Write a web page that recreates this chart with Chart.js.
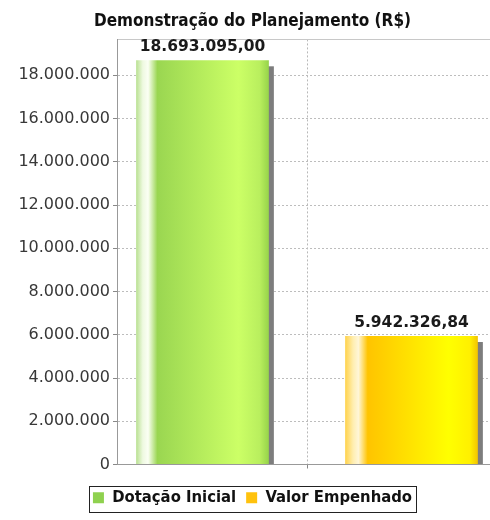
<!DOCTYPE html>
<html>
<head>
<meta charset="utf-8">
<script src="https://cdn.jsdelivr.net/npm/chart.js@4/dist/chart.umd.min.js"></script>
<style>
  html, body { margin: 0; padding: 0; background: #ffffff; overflow: hidden; }
  #wrap { width: 500px; height: 520px; }
</style>
</head>
<body>
<div id="wrap"><canvas id="c" width="500" height="520"></canvas></div>
<script>
// ---- data ----
const chartTitle = 'Demonstração do Planejamento (R$)';
const categories = [''];
const seriesNames = ['Dotação Inicial', 'Valor Empenhado'];
const dotacaoInicial = [18693095.00];
const valorEmpenhado = [5942326.84];
const yMin = 0;
const yMax = 19660000;
const yTicks = [0, 2000000, 4000000, 6000000, 8000000, 10000000, 12000000, 14000000, 16000000, 18000000];

// ---- helpers ----
function fmtInt(v) {
  return Math.round(v).toString().replace(/\B(?=(\d{3})+(?!\d))/g, '.');
}
function fmtMoney(v) {
  const parts = v.toFixed(2).split('.');
  return fmtInt(Number(parts[0])) + ',' + parts[1];
}

const seriesColors = ['#8fd14f', '#ffc20e'];
const gradientStops = [
  [[0, '#b8e090'], [0.05, '#eef9e0'], [0.09, '#fbfff4'], [0.16, '#9ad651'], [0.77, '#ccff66'], [0.93, '#b9ef5e'], [1, '#96d34a']],
  [[0, '#ffd24a'], [0.06, '#ffeeb0'], [0.10, '#fff6d8'], [0.17, '#ffc400'], [0.78, '#ffff00'], [0.94, '#fff000'], [1, '#f2c400']]
];

const barDecor = {
  id: 'barDecor',
  beforeDatasetsDraw(chart) {
    const ctx = chart.ctx;
    chart.data.datasets.forEach((ds, di) => {
      const meta = chart.getDatasetMeta(di);
      meta.data.forEach((el) => {
        const p = el.getProps(['x', 'y', 'base', 'width'], true);
        const left = p.x - p.width / 2;
        const right = p.x + p.width / 2;
        // shadow
        ctx.save();
        ctx.fillStyle = '#7d7d7d';
        ctx.fillRect(left + 5, p.y + 6, p.width, p.base - p.y - 6);
        ctx.restore();
        // gradient fill
        const g = ctx.createLinearGradient(left, 0, right, 0);
        gradientStops[di].forEach(s => g.addColorStop(s[0], s[1]));
        el.options.backgroundColor = g;
      });
    });
  },
  afterDatasetsDraw(chart) {
    const ctx = chart.ctx;
    ctx.save();
    ctx.font = 'bold 15.5px "DejaVu Sans"';
    ctx.fillStyle = '#1a1a1a';
    ctx.textAlign = 'center';
    ctx.textBaseline = 'middle';
    chart.data.datasets.forEach((ds, di) => {
      const meta = chart.getDatasetMeta(di);
      meta.data.forEach((el, i) => {
        const p = el.getProps(['x', 'y'], true);
        ctx.fillText(fmtMoney(ds.data[i]), p.x, p.y - 13);
      });
    });
    ctx.restore();
  },
  afterDraw(chart) {
    const lg = chart.legend;
    if (!lg || !lg.legendHitBoxes || !lg.legendHitBoxes.length) return;
    const hb = lg.legendHitBoxes;
    const first = hb[0], last = hb[hb.length - 1];
    const x0 = first.left - 4;
    const x1 = last.left + last.width + 4;
    const y0 = first.top - 4;
    const y1 = first.top + first.height + 5;
    const ctx = chart.ctx;
    ctx.save();
    ctx.strokeStyle = '#222222';
    ctx.lineWidth = 1;
    ctx.strokeRect(Math.round(x0) + 0.5, Math.round(y0) + 0.5, Math.round(x1 - x0), Math.round(y1 - y0));
    ctx.restore();
  }
};

new Chart(document.getElementById('c'), {
  type: 'bar',
  data: {
    labels: categories,
    datasets: [
      { label: seriesNames[0], data: dotacaoInicial, backgroundColor: seriesColors[0], borderWidth: 0 },
      { label: seriesNames[1], data: valorEmpenhado, backgroundColor: seriesColors[1], borderWidth: 0 }
    ]
  },
  options: {
    responsive: false,
    animation: false,
    devicePixelRatio: 1,
    layout: { padding: { top: 0, left: 8, right: 3, bottom: 4 } },
    datasets: { bar: { categoryPercentage: 1.1, barPercentage: 0.635 } },
    plugins: {
      title: {
        display: true,
        text: chartTitle,
        color: '#111111',
        font: { family: '"DejaVu Sans Condensed", "DejaVu Sans"', weight: 'bold', size: 17, lineHeight: 1.2 },
        padding: { top: 11, bottom: 8 }
      },
      legend: {
        position: 'bottom',
        labels: {
          color: '#111111',
          font: { family: '"DejaVu Sans Condensed", "DejaVu Sans"', weight: 'bold', size: 16.5 },
          boxWidth: 11,
          boxHeight: 11,
          padding: 10
        }
      },
      tooltip: { enabled: false }
    },
    scales: {
      x: {
        grid: {
          display: true,
          offset: false,
          color: '#b8b8b8',
          drawTicks: true,
          tickLength: 4,
          tickColor: '#888888'
        },
        border: { display: true, color: '#999999', dash: [2, 2] },
        ticks: { display: false },
        afterFit(s) { s.height = 15; }
      },
      y: {
        min: yMin,
        max: yMax,
        afterBuildTicks(s) {
          s.ticks = yTicks.concat([yMax]).map(v => ({ value: v }));
        },
        ticks: {
          autoSkip: false,
          color: '#383838',
          font: { family: '"DejaVu Sans"', size: 16 },
          padding: 3,
          callback: (v) => (v === yMax ? '' : fmtInt(v))
        },
        grid: {
          color: (c) => (c.tick && c.tick.value === 0 ? 'rgba(0,0,0,0)' : (c.tick && c.tick.value === yMax ? '#c8c8c8' : '#bdbdbd')),
          tickLength: 4,
          tickColor: (c) => (c.tick && c.tick.value === yMax ? 'rgba(0,0,0,0)' : '#888888')
        },
        border: {
          display: true,
          color: '#999999',
          dash: (c) => (c.tick && c.tick.value === yMax ? [] : [2, 2])
        },
        afterFit(s) { s.width = 109; }
      }
    }
  },
  plugins: [barDecor]
});
</script>
</body>
</html>
